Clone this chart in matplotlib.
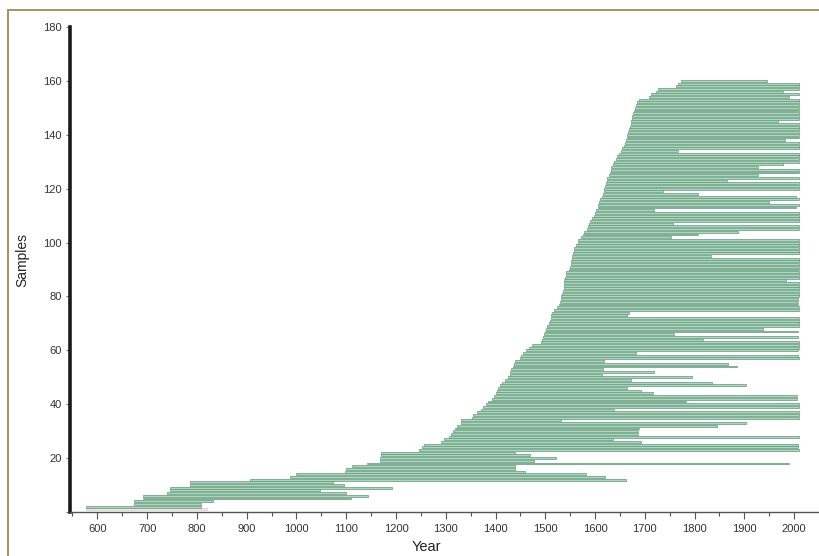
import matplotlib
matplotlib.use("Agg")
import matplotlib.pyplot as plt
from matplotlib.lines import Line2D
from matplotlib.ticker import MultipleLocator

plt.rcParams['font.family'] = ['Liberation Sans', 'DejaVu Sans']

# Start and end year of each sample (sample number = position, 1..160)
starts = [
    577, 577, 673, 673, 692, 692, 740, 745, 745, 787,
    787, 907, 987, 1000, 1097, 1100, 1112, 1142, 1167, 1168,
    1170, 1170, 1247, 1252, 1257, 1291, 1296, 1306, 1310, 1315,
    1318, 1323, 1330, 1330, 1353, 1355, 1362, 1370, 1375, 1380,
    1384, 1393, 1396, 1400, 1402, 1405, 1409, 1413, 1420, 1425,
    1430, 1430, 1432, 1435, 1437, 1440, 1449, 1452, 1456, 1461,
    1467, 1474, 1491, 1494, 1496, 1497, 1499, 1501, 1504, 1508,
    1510, 1511, 1512, 1514, 1518, 1524, 1528, 1530, 1531, 1532,
    1534, 1536, 1538, 1538, 1538, 1538, 1539, 1541, 1541, 1548,
    1550, 1551, 1551, 1553, 1553, 1555, 1557, 1558, 1561, 1565,
    1566, 1571, 1575, 1578, 1583, 1585, 1588, 1590, 1593, 1597,
    1599, 1601, 1605, 1606, 1608, 1610, 1613, 1615, 1617, 1618,
    1620, 1622, 1624, 1625, 1628, 1630, 1632, 1633, 1637, 1638,
    1642, 1645, 1648, 1652, 1655, 1658, 1660, 1662, 1664, 1665,
    1666, 1668, 1670, 1672, 1673, 1675, 1675, 1677, 1679, 1680,
    1682, 1684, 1689, 1709, 1712, 1722, 1726, 1762, 1766, 1772,
]
ends = [
    820, 808, 808, 832, 1110, 1143, 1100, 1047, 1192, 1095,
    1073, 1663, 1621, 1581, 1460, 1440, 1440, 1989, 1477, 1521,
    1470, 1440, 2010, 2008, 2008, 1692, 1636, 2009, 1687, 1687,
    1689, 1846, 1903, 1531, 2010, 2010, 2010, 1638, 2010, 2010,
    1782, 2005, 2005, 1717, 1693, 1664, 1903, 1836, 1672, 1794,
    1613, 1719, 1615, 1885, 1868, 1617, 2010, 2007, 1682, 2007,
    2010, 2010, 2010, 1816, 2007, 1759, 2007, 1937, 2010, 2010,
    2010, 2010, 1665, 1669, 2010, 2010, 2007, 2007, 2007, 2010,
    2010, 2010, 2010, 2010, 2010, 1984, 2010, 2010, 2010, 2010,
    2010, 2010, 2010, 2010, 1833, 2010, 2010, 2010, 2010, 2010,
    2010, 1752, 1806, 1887, 2010, 2010, 1756, 2010, 2010, 2010,
    2010, 1719, 2004, 2010, 1950, 2010, 2004, 1806, 1736, 2010,
    2010, 2010, 1866, 2010, 1927, 2010, 2010, 1927, 1977, 2010,
    2010, 2010, 2010, 1766, 2010, 2010, 2010, 1981, 2010, 2010,
    2010, 2010, 2010, 2010, 1967, 2010, 2010, 2010, 2010, 2010,
    2010, 2010, 2010, 1990, 2010, 1977, 2010, 2010, 2010, 1945,
]
samples = list(range(1, len(starts) + 1))
widths = [e - s for s, e in zip(starts, ends)]

x_ticks = list(range(600, 2001, 100))
y_ticks = list(range(0, 181, 20))

fig = plt.figure(figsize=(8.19, 5.56), dpi=100)
ax = fig.add_axes([70 / 819, 44 / 556, 748 / 819, 485 / 556])

face = ['#efe4e4'] + ['#acd6be'] * (len(samples) - 1)
edge = ['#e0cfcf'] + ['#5f9877'] * (len(samples) - 1)
ax.barh(samples, widths, left=starts, height=0.72,
        color=face, edgecolor=edge, linewidth=0.5)

ax.set_xlim(545, 2048)
ax.set_ylim(0, 180)

for side in ('top', 'right'):
    ax.spines[side].set_visible(False)
ax.spines['left'].set_linewidth(2.6)
ax.spines['left'].set_color('#1a1a1a')
ax.spines['bottom'].set_linewidth(1.0)
ax.spines['bottom'].set_color('#555555')

ax.set_xticks(x_ticks)
ax.xaxis.set_minor_locator(MultipleLocator(50))
ax.set_yticks(y_ticks)
ax.set_yticklabels(['' if v == 0 else str(v) for v in y_ticks])
ax.tick_params(axis='x', which='major', length=5, width=0.8, color='#555555',
               labelsize=8, labelcolor='#333333', pad=4)
ax.tick_params(axis='x', which='minor', length=3, width=0.8, color='#555555')
ax.tick_params(axis='y', which='major', length=3, width=0.8, color='#777777',
               labelsize=8, labelcolor='#333333', pad=3)

ax.set_xlabel('Year', fontsize=10.5, color='#222222')
ax.xaxis.set_label_coords(0.476, -0.058)
ax.set_ylabel('Samples', fontsize=10, color='#222222')
ax.yaxis.set_label_coords(-0.054, 0.52)

# decorative frame lines (top and left)
frame_c = '#a39660'
fig.add_artist(Line2D([8 / 819, 1.0], [1 - 10 / 556, 1 - 10 / 556],
                      transform=fig.transFigure, color=frame_c, lw=1.4))
fig.add_artist(Line2D([8 / 819, 8 / 819], [0.0, 1 - 10 / 556],
                      transform=fig.transFigure, color=frame_c, lw=1.4))

fig.savefig('out.png', dpi=100)
